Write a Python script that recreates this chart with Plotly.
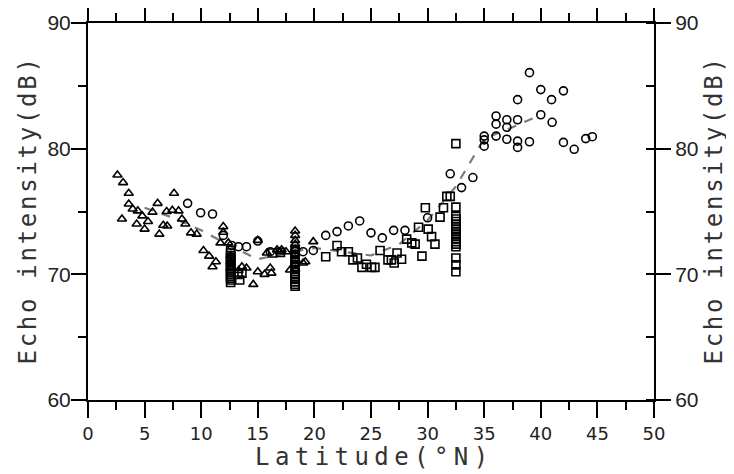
import plotly.graph_objects as go

# ---- data ----
tri_lat = [2.6, 3.1, 3.6, 3.6, 3.95, 4.4, 4.8, 3.0, 4.3, 5.0, 5.3, 5.7, 6.15, 7.6, 6.95, 7.45,
           8.0, 6.65, 7.0, 6.3, 8.3, 8.6, 9.1, 9.6, 10.2, 10.7, 11.3, 11.0, 11.95, 11.95, 11.7,
           12.4, 13.3, 13.6, 14.0, 15.0, 15.6, 16.1, 14.6, 15.8, 16.7, 17.1, 17.5, 19.2, 15.0,
           17.85, 16.2, 16.96, 19.9, 19.0,
           12.6, 12.6, 12.6,
           18.3, 18.3, 18.3, 18.3, 18.3, 18.3, 18.3, 18.3, 18.3]
tri_db = [77.9, 77.3, 76.45, 75.6, 75.2, 75.05, 74.65, 74.4, 74.0, 73.6, 74.2, 74.95, 75.65, 76.45,
          75.0, 75.1, 75.05, 73.9, 73.85, 73.2, 74.4, 74.0, 73.3, 73.2, 71.9, 71.45, 71.0, 70.6,
          73.8, 73.35, 72.5, 72.5, 70.3, 70.6, 70.5, 70.2, 70.0, 70.5, 69.2, 71.7, 71.95, 71.95,
          71.8, 71.0, 72.7, 70.35, 70.1, 71.8, 72.6, 70.9,
          71.5, 71.0, 70.5,
          73.45, 73.1, 72.7, 72.4, 72.0, 71.6, 71.2, 70.8, 70.4]

sq_lat = [12.6] * 17 + [13.4, 13.6, 13.25, 16.3, 17.0] + [18.3] * 16 + [
          21.0, 22.0, 22.4, 23.0, 23.4, 23.8, 24.2, 24.6, 25.05, 25.35, 25.8, 26.5, 26.8, 27.05,
          27.3, 27.7, 28.15, 28.6, 28.9, 29.5, 29.2, 29.8, 30.05, 30.35, 30.65, 31.1, 31.4, 31.7,
          32.0, 32.5] + [32.5] * 17
sq_db = [71.9, 71.7, 71.5, 71.35, 71.2, 71.05, 70.9, 70.75, 70.6, 70.45, 70.3, 70.15, 70.0, 69.85,
         69.7, 69.55, 69.35,
         69.55, 70.1, 70.0, 71.7, 71.75,
         72.0, 71.8, 71.6, 71.4, 71.2, 71.0, 70.8, 70.6, 70.4, 70.2, 70.0, 69.8, 69.6, 69.4, 69.2, 69.05,
         71.4, 72.3, 71.8, 71.8, 71.15, 71.3, 70.55, 70.8, 70.55, 70.55, 71.9, 71.15, 71.15, 70.9,
         71.7, 71.2, 72.8, 72.5, 72.4, 71.45, 73.75, 75.3, 73.6, 73.0, 72.4, 74.55, 75.3, 76.2,
         76.2, 80.4,
         75.35, 74.6, 74.4, 74.2, 74.0, 73.8, 73.6, 73.4, 73.2, 73.0, 72.8, 72.6, 72.4, 72.2,
         71.3, 70.75, 70.2]

cir_lat = [8.8, 9.95, 11.0, 11.95, 12.7, 13.3, 14.0, 15.0, 16.1, 19.0, 19.9, 21.0, 22.0, 23.0,
           24.0, 25.0, 26.0, 27.0, 28.0, 30.0, 32.0, 33.0, 34.0, 35.0, 35.0, 35.0, 36.05, 36.05,
           36.05, 37.0, 37.0, 37.0, 37.95, 37.95, 37.95, 37.95, 39.0, 39.0, 40.0, 40.0, 40.95,
           41.0, 42.0, 42.0, 42.95, 43.97, 44.55]
cir_db = [75.65, 74.9, 74.8, 73.1, 72.3, 72.2, 72.2, 72.65, 71.8, 71.8, 71.9, 73.1, 73.4, 73.85,
          74.25, 73.3, 72.9, 73.5, 73.5, 74.5, 78.0, 76.9, 77.7, 80.7, 81.0, 80.2, 82.6, 81.95,
          81.0, 82.3, 81.7, 80.75, 83.9, 82.3, 80.6, 80.1, 86.05, 80.55, 84.7, 82.7, 83.9,
          82.1, 84.6, 80.5, 79.95, 80.8, 80.95]

mean_lat = [5, 7.5, 10, 12.5, 15, 17.5, 20, 22.5, 25, 27.5, 30, 32.5, 35, 37.5, 40]
mean_db = [75.3, 74.5, 73.5, 72.3, 71.2, 71.7, 72.1, 71.8, 71.5, 72.4, 74.3, 77.0, 80.8, 81.7, 82.7]

x_ticks = [0, 5, 10, 15, 20, 25, 30, 35, 40, 45, 50]
y_ticks = [60, 70, 80, 90]
x_title = "Latitude(°N)"
y_title = "Echo intensity(dB)"

TITLE_FONT = dict(family="DejaVu Sans Mono", size=24, color="#333")


def spaced(text, gap_px):
    spacer = '<span style="font-size:%spx">\u00a0</span>' % gap_px
    return spacer.join(text)


fig = go.Figure()
mk = dict(color="black", size=8, line=dict(color="black", width=1.6))
fig.add_trace(go.Scatter(x=mean_lat, y=mean_db, mode="lines",
                         line=dict(color="#7a7a7a", width=2.2, dash="dash"), hoverinfo="skip"))
fig.add_trace(go.Scatter(x=tri_lat, y=tri_db, mode="markers",
                         marker=dict(symbol="triangle-up-open", **mk)))
fig.add_trace(go.Scatter(x=sq_lat, y=sq_db, mode="markers",
                         marker=dict(symbol="square-open", **mk)))
fig.add_trace(go.Scatter(x=cir_lat, y=cir_db, mode="markers",
                         marker=dict(symbol="circle-open", **mk)))
# invisible trace to bind the right-hand axis
fig.add_trace(go.Scatter(x=[0], y=[60], yaxis="y2", mode="markers",
                         marker=dict(opacity=0), hoverinfo="skip"))

axis_common = dict(showline=True, linecolor="black", linewidth=2, showgrid=False,
                   zeroline=False, tickcolor="black", tickwidth=2, automargin=False)

# the page body adds an 8px offset; sizes compensate for it
fig.update_layout(
    width=726, height=466,
    margin=dict(l=80, r=80, t=15, b=74, autoexpand=False),
    paper_bgcolor="white", plot_bgcolor="white",
    showlegend=False,
    xaxis=dict(range=[0, 50], tickvals=x_ticks, ticktext=[str(v) for v in x_ticks],
               ticks="outside", ticklen=16, mirror="ticks",
               minor=dict(dtick=2.5, tick0=0, ticks="outside", ticklen=8,
                          tickcolor="black", tickwidth=2),
               tickfont=dict(family="DejaVu Sans", size=18, color="#222"),
               **axis_common),
    yaxis=dict(range=[60, 90], tickvals=y_ticks, ticktext=[str(v) for v in y_ticks],
               ticks="outside", ticklen=15, ticklabelstandoff=-4,
               minor=dict(dtick=5, tick0=60, ticks="outside", ticklen=8,
                          tickcolor="black", tickwidth=2),
               tickfont=dict(family="Liberation Sans", size=21, color="#222"),
               **axis_common),
    yaxis2=dict(range=[60, 90], overlaying="y", side="right", tickvals=y_ticks,
                ticktext=[str(v) for v in y_ticks],
                ticks="outside", ticklen=15,
                minor=dict(dtick=5, tick0=60, ticks="inside", ticklen=8,
                           tickcolor="black", tickwidth=2),
                tickfont=dict(family="Liberation Sans", size=21, color="#222"),
                **axis_common),
    annotations=[
        dict(text=spaced(x_title, 9), xref="paper", yref="paper", x=0.5, y=0,
             xanchor="center", yanchor="top", yshift=-41, showarrow=False, font=TITLE_FONT),
        dict(text=spaced(y_title, 4.5), xref="paper", yref="paper", x=0, y=0.5,
             xanchor="right", yanchor="middle", xshift=-45, textangle=-90,
             showarrow=False, font=TITLE_FONT),
        dict(text=spaced(y_title, 4.5), xref="paper", yref="paper", x=1, y=0.5,
             xanchor="left", yanchor="middle", xshift=43, textangle=-90,
             showarrow=False, font=TITLE_FONT),
    ],
)

fig.write_html("out.html")
